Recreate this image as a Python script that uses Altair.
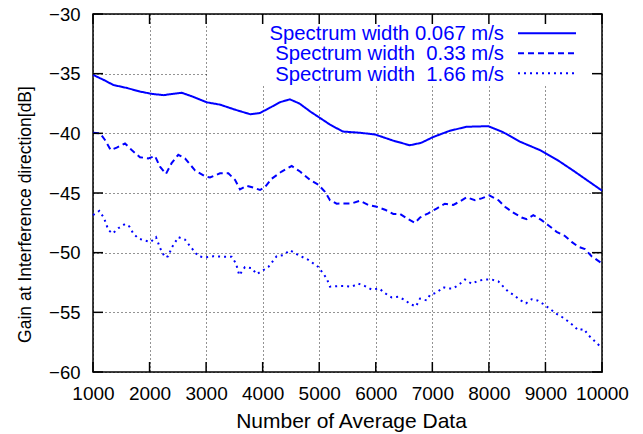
import altair as alt
import pandas as pd

# ---- data ----
x_ticks = [1000, 2000, 3000, 4000, 5000, 6000, 7000, 8000, 9000, 10000]
y_ticks = [-60, -55, -50, -45, -40, -35, -30]

series_labels = ["Spectrum width 0.067 m/s",
                 "Spectrum width \u00a00.33 m/s",
                 "Spectrum width \u00a01.66 m/s"]

s1_x = [1000, 1200, 1360, 1600, 1830, 2050, 2250, 2400, 2570, 2750, 3010, 3250, 3500,
        3780, 3950, 4150, 4300, 4480, 4650, 4850, 5010, 5200, 5420, 5720, 5990, 6300,
        6600, 6800, 7020, 7300, 7600, 7990, 8250, 8550, 8900, 9200, 9500, 10000]
s1_y = [-35.1, -35.55, -35.95, -36.2, -36.5, -36.7, -36.8, -36.7, -36.6, -36.9, -37.4, -37.6, -38.0,
        -38.4, -38.3, -37.8, -37.4, -37.15, -37.5, -38.2, -38.7, -39.3, -39.85, -39.95, -40.1, -40.6,
        -41.0, -40.8, -40.3, -39.8, -39.45, -39.4, -39.9, -40.7, -41.4, -42.2, -43.15, -44.8]

s2_x = [1000, 1124, 1212, 1313, 1419, 1566, 1684, 1831, 1978, 2096, 2185, 2290, 2390, 2508,
        2626, 2803, 2980, 3069, 3245, 3393, 3511, 3599, 3717, 3835, 3953, 4041, 4160, 4336,
        4513, 4660, 4837, 4984, 5102, 5190, 5308, 5426, 5573, 5720, 5868, 6016, 6163, 6310,
        6428, 6575, 6693, 6782, 6929, 7076, 7223, 7371, 7489, 7607, 7754, 7872, 8006, 8166,
        8284, 8432, 8579, 8668, 8785, 8932, 9050, 9197, 9345, 9463, 9580, 9698, 9816, 10000]
s2_y = [-39.95, -40.0, -40.56, -41.4, -41.2, -40.85, -41.4, -42.0, -42.1, -41.9, -42.8, -43.4, -42.5, -41.8,
        -42.1, -43.1, -43.6, -43.7, -43.35, -43.35, -43.9, -44.7, -44.4, -44.55, -44.75, -44.5, -43.8, -43.2,
        -42.74, -43.2, -43.9, -44.3, -44.9, -45.6, -45.9, -45.87, -45.87, -45.65, -46.0, -46.15, -46.4, -46.75,
        -46.75, -47.2, -47.5, -47.05, -46.7, -46.3, -45.9, -46.0, -45.7, -45.36, -45.6, -45.45, -45.2, -45.6,
        -46.15, -46.65, -47.05, -47.2, -46.85, -47.27, -47.7, -48.25, -48.6, -49.1, -49.5, -49.7, -50.3, -50.9]

s3_x = [1000, 1112, 1195, 1271, 1348, 1448, 1566, 1642, 1713, 1801, 1889, 2019, 2114, 2185,
        2273, 2331, 2390, 2508, 2626, 2715, 2862, 2980, 3127, 3333, 3452, 3528, 3587, 3687,
        3806, 3894, 4000, 4100, 4248, 4365, 4483, 4630, 4807, 4984, 5131, 5190, 5337, 5455,
        5573, 5691, 5809, 5927, 6062, 6163, 6281, 6398, 6516, 6604, 6710, 6782, 6900, 6958,
        7076, 7193, 7282, 7371, 7489, 7577, 7695, 7813, 7931, 8049, 8166, 8255, 8343, 8443,
        8550, 8656, 8756, 8856, 8962, 9068, 9186, 9286, 9386, 9492, 9580, 9681, 9757, 9845, 10000]
s3_y = [-46.85, -46.5, -47.1, -48.1, -48.4, -47.95, -47.6, -47.8, -48.4, -48.8, -48.95, -49.1, -48.7, -49.6,
        -50.4, -50.3, -49.6, -48.7, -48.9, -49.45, -50.3, -50.4, -50.3, -50.35, -50.35, -50.9, -51.9, -51.2,
        -51.3, -51.8, -51.5, -51.2, -50.3, -50.2, -49.8, -50.2, -50.6, -51.2, -52.15, -52.85, -52.8, -52.8,
        -52.85, -52.6, -52.8, -53.1, -53.0, -53.4, -53.75, -53.7, -53.97, -54.3, -54.5, -53.85, -54.0, -53.55,
        -53.35, -52.9, -53.0, -53.0, -52.6, -52.25, -52.6, -52.35, -52.25, -52.25, -52.4, -52.85, -53.27, -53.55,
        -53.97, -54.25, -53.9, -54.0, -54.3, -54.67, -55.1, -55.37, -55.7, -56.1, -56.5, -56.4, -56.9, -57.3, -58.0]

# ---- layout / style ----
W, H = 509, 358
FONT = "Liberation Sans"
BLUE = "#0000ff"
dashes = [[1, 0], [6, 4], [2, 4]]

xs = alt.Scale(domain=[1000, 10000], nice=False, zero=False, padding=0)
ys = alt.Scale(domain=[-60, -30], nice=False, zero=False, padding=0)

x_axis = alt.Axis(values=x_ticks, format="d", title="Number of Average Data",
                  labelFont=FONT, labelFontSize=19, labelColor="black", labelPadding=12,
                  labelOverlap=False, labelFlush=False, labelBound=False,
                  ticks=False, domain=False, grid=True,
                  gridColor="black", gridDash=[1, 3], gridWidth=1, gridOpacity=0.85,
                  titleFont=FONT, titleFontSize=21, titleFontWeight="normal", titleColor="black",
                  titleBaseline="alphabetic", titleY=55, titleX=258)
y_axis = alt.Axis(values=y_ticks, format="d", title="Gain at Interference direction[dB]",
                  labelFont=FONT, labelFontSize=18.5, labelColor="black", labelPadding=13,
                  labelOverlap=False, labelFlush=False, labelBound=False,
                  ticks=False, domain=False, grid=True,
                  gridColor="black", gridDash=[1, 3], gridWidth=1, gridOpacity=0.85,
                  titleFont=FONT, titleFontSize=17.5, titleFontWeight="normal", titleColor="black",
                  titleAngle=270, titleBaseline="alphabetic", titleX=-63, titleY=200)

xs_list = [s1_x, s2_x, s3_x]
ys_list = [s1_y, s2_y, s3_y]

frames = []
for i in range(3):
    frames.append(pd.DataFrame({"n": xs_list[i], "gain": ys_list[i], "series": series_labels[i]}))

df_ticks_x = pd.DataFrame({"n": x_ticks})
df_ticks_y = pd.DataFrame({"gain": y_ticks})

# axes + grid carrier
base_axes = alt.Chart(df_ticks_x).mark_point(opacity=0).encode(
    x=alt.X("n:Q", scale=xs, axis=x_axis),
    y=alt.Y("gain:Q", scale=ys, axis=y_axis),
).transform_calculate(gain="-45")

# white key box covering the grid
key_box = alt.Chart(df_ticks_x).mark_rect(color="white").encode(
    x=alt.value(115), x2=alt.value(508), y=alt.value(1), y2=alt.value(70)
).transform_filter("datum.n == 1000")

layers = [base_axes, key_box]
for i in range(3):
    layers.append(
        alt.Chart(frames[i]).mark_line(color=BLUE, strokeWidth=2, strokeDash=dashes[i]).encode(
            x=alt.X("n:Q", scale=xs), y=alt.Y("gain:Q", scale=ys), order="n:Q")
    )

# key entries
for i in range(3):
    one = frames[i].head(1)
    layers.append(
        alt.Chart(one).mark_text(align="right", baseline="alphabetic", font=FONT,
                                 fontSize=20.3, color=BLUE).encode(
            x=alt.value(411), y=alt.value(26 + 20.3 * i), text="series:N")
    )
    layers.append(
        alt.Chart(one).mark_rule(color=BLUE, strokeWidth=2, strokeDash=dashes[i]).encode(
            x=alt.value(425), x2=alt.value(483), y=alt.value(19.3 + 20 * i))
    )

# inward ticks on all four sides
tick_style = dict(color="black", thickness=1.5, size=10, opacity=1)
layers.append(alt.Chart(df_ticks_x).mark_tick(orient="vertical", **tick_style).encode(
    x=alt.X("n:Q", scale=xs), y=alt.value(H - 5)))
layers.append(alt.Chart(df_ticks_x).mark_tick(orient="vertical", **tick_style).encode(
    x=alt.X("n:Q", scale=xs), y=alt.value(5)))
layers.append(alt.Chart(df_ticks_y).mark_tick(orient="horizontal", **tick_style).encode(
    y=alt.Y("gain:Q", scale=ys), x=alt.value(5)))
layers.append(alt.Chart(df_ticks_y).mark_tick(orient="horizontal", **tick_style).encode(
    y=alt.Y("gain:Q", scale=ys), x=alt.value(W - 5)))

chart = alt.layer(*layers).properties(
    width=W, height=H,
    autosize=alt.AutoSizeParams(type="none"),
    padding={"left": 85, "top": 6, "right": 33, "bottom": 60},
    background="white",
).configure_view(stroke="black", strokeWidth=1.5)

chart.save("out.html", embed_options={"renderer": "svg", "actions": False})
